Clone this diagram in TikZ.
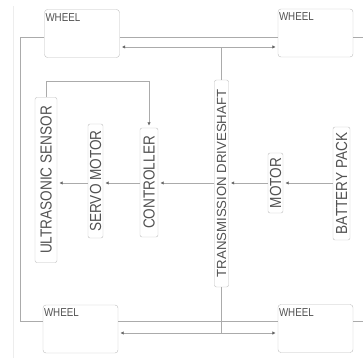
\documentclass[tikz,border=0pt]{standalone}
\usepackage{fontspec}
\setmainfont{Liberation Sans}
\usepackage{tikz}
\usetikzlibrary{arrows.meta, positioning, calc}
\usepackage{xcolor}
\definecolor{boxgray}{HTML}{BDBDBD}
\definecolor{linegray}{HTML}{ABABAB}
\definecolor{textgray}{HTML}{525252}
\definecolor{tipgray}{HTML}{666666}
\newcommand{\narrow}[1]{\scalebox{0.85}[1]{#1}}

\begin{document}
\begin{tikzpicture}[x=1pt,y=1pt,
  part/.style={draw=boxgray, rounded corners=2pt, rotate=90, inner sep=0pt,
    text=textgray, font=\fontsize{16}{16}\selectfont},
  wheel/.style={draw=boxgray, rounded corners=3pt, minimum width=75pt, minimum height=48pt},
  wire/.style={draw=linegray, line width=0.8pt},
  arr/.style={wire, -{Latex[length=3.5pt,width=3.5pt,color=tipgray]}, shorten >=2pt}]
  \useasboundingbox (0,0) rectangle (363,358);
  \draw[black!7] (13,0) -- (13,352);
  % wheels
  \node[wheel] (wl) at (82,324.5) {};
  \node[wheel] (wr) at (315.5,325) {};
  \node[wheel] (bl) at (80.5,29) {};
  \node[wheel] (br) at (315.5,29.5) {};
  \foreach \w in {wl,wr,bl,br}
    \node[anchor=north west, inner sep=0pt, text=textgray, font=\fontsize{11.5}{11.5}\selectfont]
      at ($(\w.north west)+(1,-4)$) {\narrow{WHEEL}};
  % blocks
  \node[part, minimum width=165pt, minimum height=22pt] (sensor) at (46,178) {\narrow{ULTRASONIC SENSOR}};
  \node[part, minimum width=114pt, minimum height=15pt] (servo) at (95.5,177) {\narrow{SERVO MOTOR}};
  \node[part, minimum width=109pt, minimum height=18pt] (ctrl) at (149,175.5) {\narrow{CONTROLLER}};
  \node[part, minimum width=207pt, minimum height=14pt, font=\fontsize{13.2}{14}\selectfont] (shaft) at (221.5,174.5) {TRANSMISSION DRIVESHAFT};
  \node[part, minimum width=60pt, minimum height=15pt] (motor) at (275.5,175) {\narrow{MOTOR}};
  \node[part, minimum width=113pt, minimum height=17pt] (battery) at (341.5,174.5) {\narrow{BATTERY PACK}};
  % frame
  \coordinate (ftl) at (20,321);
  \coordinate (fbl) at (20,37);
  \draw[wire] (wl.west |- ftl) -- (ftl) -- (fbl) -- (bl.west |- fbl);
  \draw[wire] (wl.east |- ftl) -- (wr.west |- ftl);
  \draw[wire] (wr.east |- ftl) -- (363,321);
  \draw[wire] (bl.east |- fbl) -- (br.west |- fbl);
  \draw[wire] (br.east |- fbl) -- (363,37);
  % signal chain
  \coordinate (row) at (0,175);
  \draw[arr] (battery.north |- row) -- (motor.south |- row);
  \draw[arr] (motor.north |- row) -- (shaft.south |- row);
  \draw[arr] (shaft.north |- row) -- (ctrl.south |- row);
  \draw[arr] (ctrl.north |- row) -- (servo.south |- row);
  \draw[arr] (servo.north |- row) -- (sensor.south |- row);
  \coordinate (loop) at (149,277);
  \draw[arr] (sensor.east) |- (loop) -- (ctrl.east);
  % drive to wheels
  \coordinate (jt) at (221.5,311);
  \coordinate (jb) at (221.5,25);
  \draw[wire] (shaft.east) -- (jt);
  \draw[arr] (jt) -- (jt -| wl.east);
  \draw[arr] (jt) -- (jt -| wr.west);
  \draw[wire] (shaft.west) -- (jb);
  \draw[arr] (jb) -- (jb -| bl.east);
  \draw[arr] (jb) -- (jb -| br.west);
\end{tikzpicture}
\end{document}
